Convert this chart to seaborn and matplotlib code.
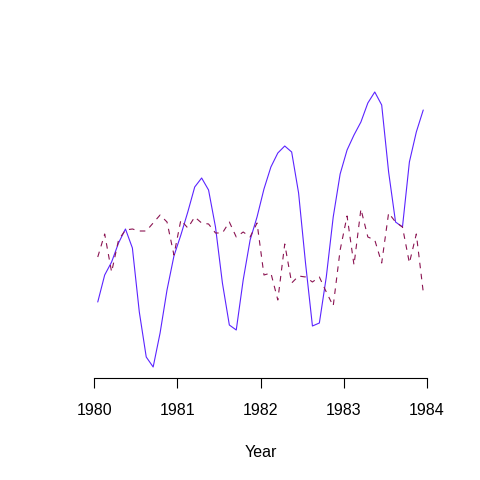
import numpy as np
import pandas as pd
import seaborn as sns
import matplotlib
matplotlib.use('Agg')
import matplotlib.pyplot as plt

# monthly series, mid-month time stamps 1980-1983
months = np.arange(48)
year = 1980 + (months + 0.5) / 12

series_solid = [76, 103, 116, 135, 149, 130, 66, 21, 11, 45, 88, 122,
                143, 166, 191, 200, 188, 151, 95, 53, 48, 98, 138, 161,
                189, 211, 225, 232, 226, 185, 115, 52, 55, 101, 161, 204,
                228, 243, 256, 275, 286, 273, 206, 156, 151, 216, 246, 268]
series_dashed = [121, 144, 106, 138, 148, 149, 147, 147, 155, 163, 156, 123,
                 158, 150, 161, 155, 154, 145, 145, 156, 141, 146, 141, 155,
                 103, 105, 78, 134, 95, 102, 101, 96, 101, 86, 72, 128,
                 162, 113, 169, 141, 138, 115, 165, 156, 151, 115, 144, 86]
year_ticks = [1980, 1981, 1982, 1983, 1984]

df = pd.DataFrame({'Year': year, 'solid': series_solid, 'dashed': series_dashed})

sns.set_theme(style='white')
plt.rcParams['font.family'] = ['Liberation Sans', 'DejaVu Sans']
plt.rcParams['text.color'] = 'black'
plt.rcParams['axes.labelcolor'] = 'black'
plt.rcParams['xtick.color'] = 'black'

fig = plt.figure(figsize=(4.8, 4.8), dpi=100)
ax = fig.add_axes([81 / 480, 1 - 378 / 480, (440 - 81) / 480, (378 - 81) / 480])

sns.lineplot(data=df, x='Year', y='solid', ax=ax, color='#5b24ff', lw=0.8)
sns.lineplot(data=df, x='Year', y='dashed', ax=ax, color='#8b1452', lw=0.8,
             dashes=False, linestyle=(0, (5, 5)))

ax.set_xlim(1980 - 0.16, 1984 + 0.16)
ax.margins(y=0.04)
ax.set_xticks(year_ticks)
ax.set_xticklabels([str(y) for y in year_ticks])
ax.set_yticks([])
ax.set_ylabel('')
ax.set_xlabel('Year', fontsize=11.5, labelpad=19.5, color='black')
for s in ['top', 'right', 'left']:
    ax.spines[s].set_visible(False)
ax.spines['bottom'].set_bounds(1980, 1984)
ax.spines['bottom'].set_color('black')
ax.spines['bottom'].set_linewidth(0.8)
ax.tick_params(axis='x', direction='out', length=7.2, width=0.8, color='black',
               labelcolor='black', labelsize=11.5, pad=11, bottom=True)
ax.grid(False)

fig.savefig('out.png', dpi=100)
